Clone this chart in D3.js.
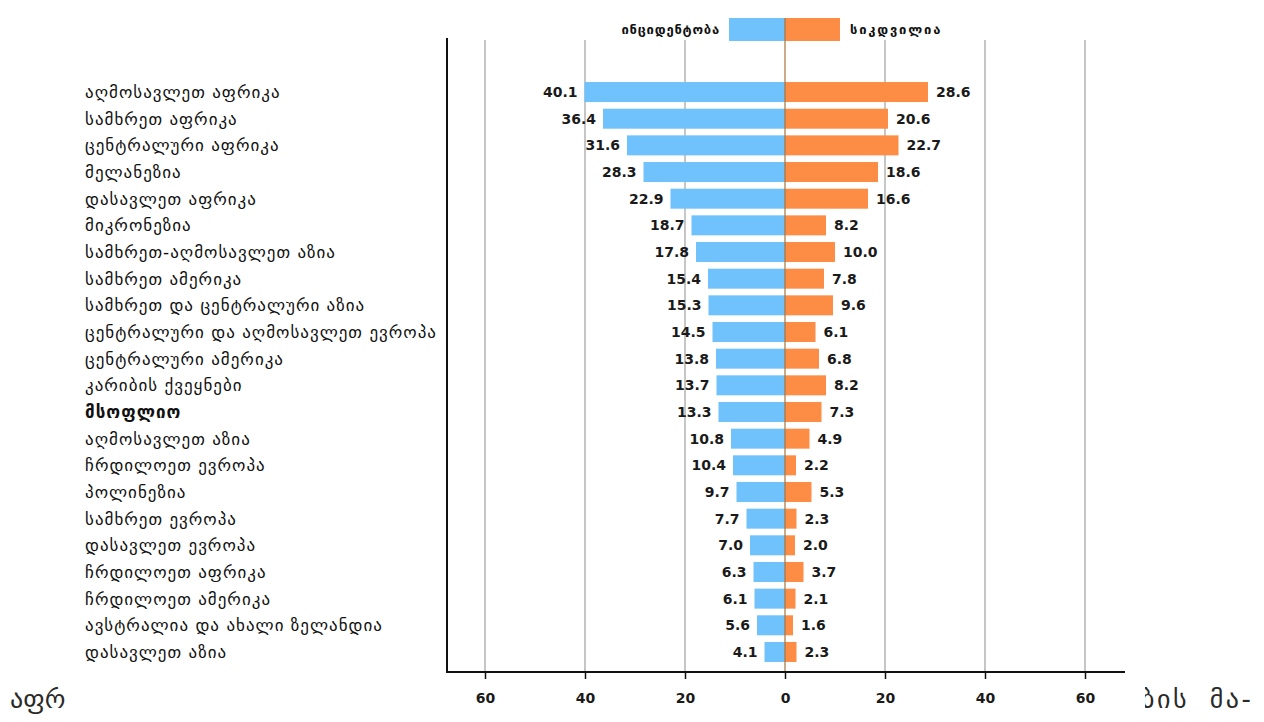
<!DOCTYPE html>
<html>
<head>
<meta charset="utf-8">
<script src="https://cdn.jsdelivr.net/npm/d3@7"></script>
<style>
  html, body { margin: 0; padding: 0; background: #fff; }
  svg { display: block; }
</style>
</head>
<body>
<svg id="chart" width="1264" height="722"></svg>
<script>
// Regions, ordered as in the chart (top to bottom)
const regions = [
  "აღმოსავლეთ აფრიკა",
  "სამხრეთ აფრიკა",
  "ცენტრალური აფრიკა",
  "მელანეზია",
  "დასავლეთ აფრიკა",
  "მიკრონეზია",
  "სამხრეთ-აღმოსავლეთ აზია",
  "სამხრეთ ამერიკა",
  "სამხრეთ და ცენტრალური აზია",
  "ცენტრალური და აღმოსავლეთ ევროპა",
  "ცენტრალური ამერიკა",
  "კარიბის ქვეყნები",
  "მსოფლიო",
  "აღმოსავლეთ აზია",
  "ჩრდილოეთ ევროპა",
  "პოლინეზია",
  "სამხრეთ ევროპა",
  "დასავლეთ ევროპა",
  "ჩრდილოეთ აფრიკა",
  "ჩრდილოეთ ამერიკა",
  "ავსტრალია და ახალი ზელანდია",
  "დასავლეთ აზია"
];

// Incidence (left side) and mortality (right side)
const incidence = [40.1, 36.4, 31.6, 28.3, 22.9, 18.7, 17.8, 15.4, 15.3, 14.5, 13.8,
                   13.7, 13.3, 10.8, 10.4, 9.7, 7.7, 7.0, 6.3, 6.1, 5.6, 4.1];
const mortality = [28.6, 20.6, 22.7, 18.6, 16.6, 8.2, 10.0, 7.8, 9.6, 6.1, 6.8,
                   8.2, 7.3, 4.9, 2.2, 5.3, 2.3, 2.0, 3.7, 2.1, 1.6, 2.3];

const seriesNames = ["ინციდენტობა", "სიკდვილია"];
const tickValues = [-60, -40, -20, 0, 20, 40, 60];

const colInc = "#6fc2fc";
const colMort = "#fd8c45";
const font = "'DejaVu Sans', Verdana, sans-serif";

const svg = d3.select("#chart");

// Running body text that the chart sits over
svg.append("text")
  .attr("x", 1141).attr("y", 708)
  .attr("font-family", font)
  .attr("font-size", 26)
  .attr("letter-spacing", 2.5)
  .attr("word-spacing", 10)
  .attr("fill", "#2a2a2a")
  .text("ბის მა-");
svg.append("text")
  .attr("x", 10).attr("y", 708)
  .attr("font-family", font)
  .attr("font-size", 26)
  .attr("fill", "#2a2a2a")
  .text("აფრ");
svg.append("rect")
  .attr("x", 70).attr("y", 0)
  .attr("width", 1075).attr("height", 722)
  .attr("fill", "#fff");

const rows = regions.map((r, i) => ({ region: r, inc: incidence[i], mort: mortality[i] }));

const x = d3.scaleLinear().domain([-68, 68]).range([445, 1125]);
const y = d3.scaleBand().domain(regions).range([78.7, 665.3]).paddingInner(0.25).paddingOuter(0.125);

const axisY = 672;
const plotTop = 40;

// Vertical gridlines
svg.append("g")
  .selectAll("line")
  .data(tickValues.filter(v => v !== 0))
  .join("line")
  .attr("x1", d => x(d)).attr("x2", d => x(d))
  .attr("y1", plotTop).attr("y2", axisY)
  .attr("stroke", "#a0a0a0")
  .attr("stroke-width", 1.2);

// Bars
const g = svg.append("g");
g.selectAll("rect.inc")
  .data(rows)
  .join("rect")
  .attr("class", "inc")
  .attr("x", d => x(-d.inc))
  .attr("y", d => y(d.region))
  .attr("width", d => x(0) - x(-d.inc))
  .attr("height", y.bandwidth())
  .attr("fill", colInc);
g.selectAll("rect.mort")
  .data(rows)
  .join("rect")
  .attr("class", "mort")
  .attr("x", x(0))
  .attr("y", d => y(d.region))
  .attr("width", d => x(d.mort) - x(0))
  .attr("height", y.bandwidth())
  .attr("fill", colMort);

// Value labels
g.selectAll("text.vinc")
  .data(rows)
  .join("text")
  .attr("class", "vinc")
  .attr("x", d => x(-d.inc) - 7)
  .attr("y", d => y(d.region) + y.bandwidth() / 2)
  .attr("dy", "0.36em")
  .attr("text-anchor", "end")
  .attr("font-family", font)
  .attr("font-weight", "bold")
  .attr("font-size", 14)
  .attr("fill", "#1a1a1a")
  .text(d => d.inc.toFixed(1));
g.selectAll("text.vmort")
  .data(rows)
  .join("text")
  .attr("class", "vmort")
  .attr("x", d => x(d.mort) + 8)
  .attr("y", d => y(d.region) + y.bandwidth() / 2)
  .attr("dy", "0.36em")
  .attr("font-family", font)
  .attr("font-weight", "bold")
  .attr("font-size", 14)
  .attr("fill", "#1a1a1a")
  .text(d => d.mort.toFixed(1));

// Category labels
svg.append("g")
  .selectAll("text")
  .data(rows)
  .join("text")
  .attr("x", 85)
  .attr("y", d => y(d.region) + y.bandwidth() / 2)
  .attr("dy", "0.36em")
  .attr("font-family", font)
  .attr("font-size", 17)
  .attr("letter-spacing", 1)
  .attr("font-weight", d => d.region === "მსოფლიო" ? "bold" : "normal")
  .attr("fill", "#111")
  .text(d => d.region);

// Zero line running up through the legend
svg.append("line")
  .attr("x1", x(0)).attr("x2", x(0))
  .attr("y1", 18).attr("y2", axisY)
  .attr("stroke", "#a8743c")
  .attr("stroke-width", 1.2);

// Legend
const lg = svg.append("g");
lg.append("rect").attr("x", 729).attr("y", 18).attr("width", x(0) - 729).attr("height", 23).attr("fill", colInc);
lg.append("rect").attr("x", x(0)).attr("y", 18).attr("width", 55).attr("height", 23).attr("fill", colMort);
lg.append("line").attr("x1", x(0)).attr("x2", x(0)).attr("y1", 18).attr("y2", 41)
  .attr("stroke", "#a8743c").attr("stroke-width", 1.2);
lg.append("text")
  .attr("x", 720).attr("y", 29).attr("dy", "0.36em")
  .attr("text-anchor", "end")
  .attr("font-family", font).attr("font-weight", "bold").attr("font-size", 13)
  .attr("letter-spacing", 0.8)
  .attr("fill", "#111")
  .text(seriesNames[0]);
lg.append("text")
  .attr("x", 850).attr("y", 29).attr("dy", "0.36em")
  .attr("font-family", font).attr("font-weight", "bold").attr("font-size", 13)
  .attr("letter-spacing", 1.8)
  .attr("fill", "#111")
  .text(seriesNames[1]);

// Bottom axis
const xAxis = d3.axisBottom(x)
  .tickValues(tickValues)
  .tickFormat(d => Math.abs(d))
  .tickSize(7)
  .tickSizeOuter(0)
  .tickPadding(14);
const ax = svg.append("g")
  .attr("transform", `translate(0,${axisY})`)
  .call(xAxis);
ax.select(".domain").remove();
ax.selectAll(".tick line").attr("stroke", "#111").attr("stroke-width", 1.5);
ax.selectAll(".tick text")
  .attr("font-family", font)
  .attr("font-weight", "bold")
  .attr("font-size", 14)
  .attr("fill", "#1a1a1a");
svg.append("line")
  .attr("x1", 446).attr("x2", 1125)
  .attr("y1", axisY).attr("y2", axisY)
  .attr("stroke", "#111").attr("stroke-width", 2);

// Left frame line
svg.append("line")
  .attr("x1", 447).attr("x2", 447)
  .attr("y1", 38).attr("y2", axisY + 1)
  .attr("stroke", "#111").attr("stroke-width", 2);
</script>
</body>
</html>
